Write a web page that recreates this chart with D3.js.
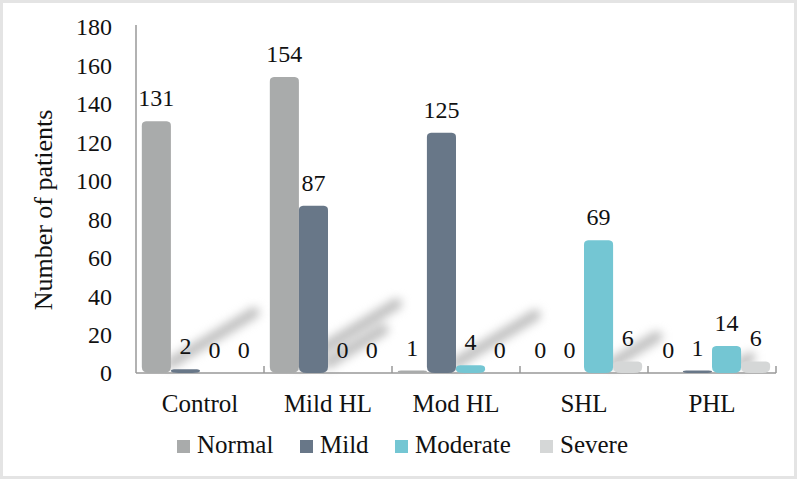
<!DOCTYPE html>
<html><head><meta charset="utf-8">
<script src="https://cdnjs.cloudflare.com/ajax/libs/d3/7.8.5/d3.min.js"></script>
<style>body{margin:0;background:#fff}svg{display:block}</style>
</head><body><svg id="c" width="800" height="481"></svg>
<script>
const categories = ["Control","Mild HL","Mod HL","SHL","PHL"];
const seriesNames = ["Normal","Mild","Moderate","Severe"];
const normal   = [131,154,1,0,0];
const mild     = [2,87,125,0,1];
const moderate = [0,0,4,69,14];
const severe   = [0,0,0,6,6];
const yTicks = [0,20,40,60,80,100,120,140,160,180];
const colors = ["#a9abab","#687788","#74c6d3","#d5d7d7"];
const FONT = "Liberation Serif";

const svg = d3.select("#c");
const W = 800, H = 481;
const m = {l:136, r:24, t:27, b:108};
const seriesVals = [normal, mild, moderate, severe];

svg.append("rect").attr("x",1.5).attr("y",1.5).attr("width",W-6).attr("height",H-5)
  .attr("fill","#fff").attr("stroke","#e4e4e4").attr("stroke-width",3);

const x0 = d3.scaleBand().domain(categories).range([m.l, W-m.r]).paddingInner(0).paddingOuter(0);
const x1 = d3.scaleBand().domain(seriesNames).range([0, x0.bandwidth()]).paddingOuter(0.2).paddingInner(0);
const y = d3.scaleLinear().domain([0,180]).range([H-m.b, m.t]);

const data = [];
categories.forEach((c,i)=>seriesNames.forEach((s,j)=>data.push({c, s, j, v: seriesVals[j][i]})));

// soft shadows (CSS blur on the group)
svg.append("g").style("filter","blur(5px)").selectAll("line").data(data.filter(d=>d.v>10)).join("line")
  .attr("x1", d=>x0(d.c)+x1(d.s)+x1.bandwidth())
  .attr("y1", y(0)-10)
  .attr("x2", d=>x0(d.c)+x1(d.s)+x1.bandwidth() + (y(0)-y(d.v))*0.33)
  .attr("y2", d=>y(0)-10 - (y(0)-y(d.v))*0.2)
  .attr("stroke","#b4b4b4").attr("stroke-width",11).attr("stroke-linecap","round").attr("opacity",0.85);

// axes
const g = svg.append("g");
g.append("line").attr("x1",m.l).attr("x2",m.l).attr("y1",y(180)-2).attr("y2",y(0)).attr("stroke","#999").attr("stroke-width",1.5);
g.append("line").attr("x1",m.l).attr("x2",W-m.r).attr("y1",y(0)).attr("y2",y(0)).attr("stroke","#999").attr("stroke-width",1.5);
const bounds = categories.map(c=>x0(c)).concat([x0(categories[categories.length-1])+x0.bandwidth()]);
g.selectAll("line.tk").data(bounds.slice(1)).join("line").attr("class","tk")
  .attr("x1",d=>d).attr("x2",d=>d).attr("y1",y(0)).attr("y2",y(0)-7).attr("stroke","#999").attr("stroke-width",1.5);

g.selectAll("text.yt").data(yTicks).join("text").attr("class","yt")
  .attr("x",112).attr("y",d=>y(d)).attr("dy","0.35em").attr("text-anchor","end")
  .attr("font-family",FONT).attr("font-size",24).attr("fill","#111").text(d=>d);

g.selectAll("text.xt").data(categories).join("text").attr("class","xt")
  .attr("x",d=>x0(d)+x0.bandwidth()/2).attr("y",412).attr("text-anchor","middle")
  .attr("font-family",FONT).attr("font-size",25).attr("fill","#111").text(d=>d);

svg.append("text").attr("transform","translate(52,210) rotate(-90)").attr("text-anchor","middle")
  .attr("font-family",FONT).attr("font-size",26).attr("fill","#111").text("Number of patients");

function barPath(xl, w, yt, yb){
  const h = yb - yt;
  const ry = Math.min(5, h/2), rx = Math.min(8, w/2);
  const ryb = Math.min(6, Math.max(0,(h-ry)));
  return `M${xl},${yt+ry} C${xl},${yt} ${xl+rx*0.3},${yt} ${xl+rx},${yt} L${xl+w-rx},${yt} C${xl+w-rx*0.3},${yt} ${xl+w},${yt} ${xl+w},${yt+ry}`+
         ` L${xl+w},${yb-ryb} Q${xl+w},${yb} ${xl+w-rx},${yb} L${xl+rx},${yb} Q${xl},${yb} ${xl},${yb-ryb} Z`;
}
svg.append("g").selectAll("path").data(data.filter(d=>d.v>0)).join("path")
  .attr("d", d=>{
    const xl = x0(d.c)+x1(d.s);
    const yt = Math.min(y(d.v), y(0)-2.5);
    return barPath(xl, x1.bandwidth(), yt, y(0));
  })
  .attr("fill", d=>colors[d.j]);

svg.append("g").selectAll("text").data(data).join("text")
  .attr("x", d=>x0(d.c)+x1(d.s)+x1.bandwidth()/2)
  .attr("y", d=>y(d.v)-15)
  .attr("text-anchor","middle").attr("font-family",FONT).attr("font-size",24).attr("fill","#111").text(d=>d.v);

const legX = [177, 300, 395, 540];
const lg = svg.append("g").selectAll("g").data(seriesNames).join("g")
  .attr("transform",(d,i)=>`translate(${legX[i]},440)`);
lg.append("rect").attr("width",13).attr("height",13).attr("fill",(d,i)=>colors[i]);
lg.append("text").attr("x",20).attr("y",13).attr("font-family",FONT).attr("font-size",25).attr("fill","#111").text(d=>d);
</script></body></html>
